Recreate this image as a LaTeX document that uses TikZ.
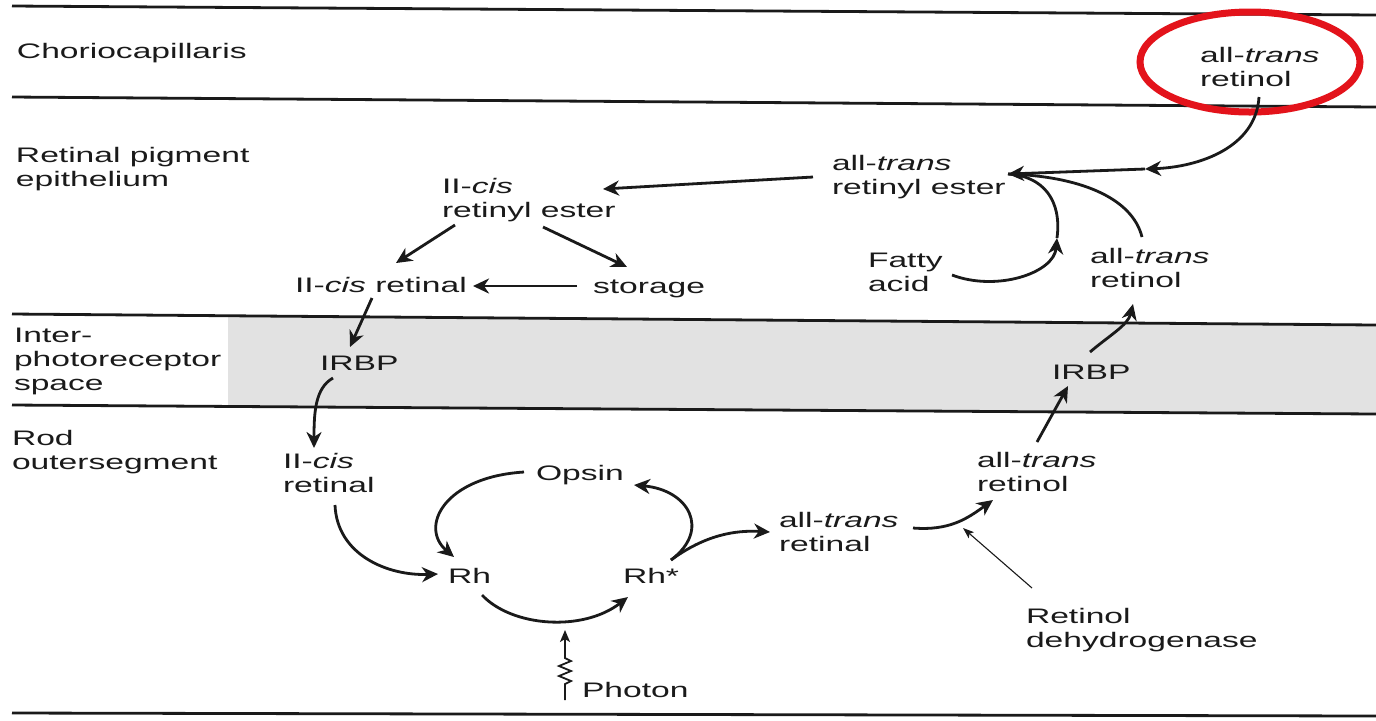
\documentclass[tikz,border=0pt]{standalone}
\usepackage{fontspec}
\setmainfont{Liberation Sans}[FakeStretch=1.6]
\usetikzlibrary{arrows.meta,calc}
\definecolor{txt}{HTML}{1A1A1A}
\definecolor{band}{HTML}{E2E2E2}
\definecolor{ring}{HTML}{E3131B}
\begin{document}
\begin{tikzpicture}[x=0.5pt,y=-0.5pt,
  lbl/.style={inner sep=0pt,outer sep=0pt,align=left,text=txt,font=\fontsize{10.5}{12}\selectfont},
  arr/.style={line width=1.4pt,draw=txt,-{Stealth[length=8pt,width=7.5pt,inset=2.5pt]}},
  conn/.style={line width=1.4pt,draw=txt},
  thinarr/.style={line width=0.55pt,draw=txt,-{Stealth[length=5.5pt,width=4pt,inset=1.2pt]}},
  photarr/.style={line width=0.9pt,draw=txt,-{Stealth[length=6pt,width=5pt,inset=1.5pt]}},
  layer/.style={line width=1.4pt,draw=txt}]
\useasboundingbox (0,0) rectangle (1376,720);
\fill[white] (0,0) rectangle (1376,720);
% interphotoreceptor band
\fill[band] (228,315.7) -- (1376,325) -- (1376,414) -- (228,406.4) -- cycle;
% layer lines
\draw[layer] (12,6) -- (1376,15);
\draw[layer] (12,97) -- (1376,107);
\draw[layer] (12,314) -- (1376,325);
\draw[layer] (12,405) -- (1376,414);
\draw[layer] (12,713) -- (1376,716);
% layer labels
\node[lbl,anchor=base west] (cho) at (17,58) {Choriocapillaris};
\node[lbl,anchor=north west] (rpe) at (16,147) {Retinal pigment\\epithelium};
\node[lbl,anchor=north west] (ips) at (14,328) {Inter-\\photoreceptor\\space};
\node[lbl,anchor=north west] (ros) at (12,430) {Rod\\outersegment};
% nodes
\node[lbl,anchor=north west] (atrolTop) at (1200,47) {all-\textit{trans}\\retinol};
\node[lbl,anchor=north west] (atrest) at (832,155) {all-\textit{trans}\\retinyl ester};
\node[lbl,anchor=north west] (cisest) at (442,178) {II-\textit{cis}\\retinyl ester};
\node[lbl,anchor=base west] (cisral) at (295,292) {II-\textit{cis} retinal};
\node[lbl,anchor=base west] (storage) at (593,293) {storage};
\node[lbl,anchor=north west] (fatty) at (868,253) {Fatty\\acid};
\node[lbl,anchor=north west] (atrolRPE) at (1090,248) {all-\textit{trans}\\retinol};
\node[lbl,anchor=base west] (irbpL) at (320,370) {IRBP};
\node[lbl,anchor=base west] (irbpR) at (1052,379) {IRBP};
\node[lbl,anchor=north west] (cisRod) at (283,453) {II-\textit{cis}\\retinal};
\node[lbl,anchor=base west] (opsin) at (536,480) {Opsin};
\node[lbl,anchor=base west] (rh) at (448,583) {Rh};
\node[lbl,anchor=base west] (rhs) at (623,583) {Rh*};
\node[lbl,anchor=north west] (atral) at (779,512) {all-\textit{trans}\\retinal};
\node[lbl,anchor=north west] (atrolRod) at (977,452) {all-\textit{trans}\\retinol};
\node[lbl,anchor=north west] (rdh) at (1026,608) {Retinol\\dehydrogenase};
\node[lbl,anchor=base west] (photon) at (582,697) {Photon};
% red ring
\draw[ring,line width=3.5pt] ([shift={(50,15)}]atrolTop.north west) ellipse [x radius=110, y radius=50];
% helper coordinates
\coordinate (esterIn) at ([shift={(176,19)}]atrest.north west);
\coordinate (m1) at ([shift={(-55,122)}]atrolTop.north west);
\coordinate (m2) at ([shift={(189,-15)}]fatty.north west);
% connectors
\draw[arr] ([shift={(59,50)}]atrolTop.north west) .. controls +(-3,50) and +(55,-2) .. (m1);
\draw[arr] (m1) -- (esterIn);
\draw[arr] ([shift={(84,22)}]fatty.north west) .. controls +(45,17) and +(-3,35) .. (m2);
\draw[conn] (m2) .. controls +(5,-38) and +(35,2) .. (esterIn);
\draw[conn] ([shift={(52,-11)}]atrolRPE.north west) .. controls +(-10,-40) and +(70,2) .. (esterIn);
\draw[arr] ([shift={(-19,22)}]atrest.north west) -- ([shift={(161,11)}]cisest.north west);
\draw[arr] ([shift={(13,47)}]cisest.north west) -- ([shift={(101,-29)}]cisral.base west);
\draw[arr] ([shift={(101,49)}]cisest.north west) -- ([shift={(34,-26)}]storage.base west);
\draw[arr] ([shift={(-16,-7)}]storage.base west) -- ([shift={(178,-6)}]cisral.base west);
\draw[arr] ([shift={(77,6)}]cisral.base west) -- ([shift={(30,-23)}]irbpL.base west);
\draw[arr] ([shift={(13,8)}]irbpL.base west) .. controls +(-18,10) and +(0,-35) .. ([shift={(31,-5)}]cisRod.north west);
\draw[arr] ([shift={(52,52)}]cisRod.north west) .. controls +(2,50) and +(-50,2) .. ([shift={(-10,-9)}]rh.base west);
\draw[arr] ([shift={(-12,-8)}]opsin.base west) .. controls +(-80,5) and +(-35,-30) .. ([shift={(6,-26)}]rh.base west);
\draw[arr] ([shift={(34,12)}]rh.base west) .. controls +(30,32) and +(-45,35) .. ([shift={(5,14)}]rhs.base west);
\draw[arr] ([shift={(48,-23)}]rhs.base west) .. controls +(40,-30) and +(55,5) .. ([shift={(98,5)}]opsin.base west);
\draw[arr] ([shift={(48,-23)}]rhs.base west) .. controls +(34,-25) and +(-35,-2) .. ([shift={(-9,20)}]atral.north west);
\draw[photarr] ([shift={(-17,3)}]photon.base west) -- ++(0,-16) -- ++(6,-3) -- ++(-12,-5) -- ++(12,-5) -- ++(-12,-5) -- ++(12,-5) -- ++(-6,-3) -- ([shift={(-17,-67)}]photon.base west);
\draw[arr] ([shift={(134,16)}]atral.north west) .. controls +(37,3) and +(-25,18) .. ([shift={(16,48)}]atrolRod.north west);
\draw[thinarr] ([shift={(6,-20)}]rdh.north west) -- ([shift={(184,16)}]atral.north west);
\draw[arr] ([shift={(60,-10)}]atrolRod.north west) -- ([shift={(16,7)}]irbpR.base west);
\draw[arr] ([shift={(38,-27)}]irbpR.base west) .. controls +(20,-17) and +(-5,21) .. ([shift={(43,56)}]atrolRPE.north west);
\end{tikzpicture}
\end{document}
